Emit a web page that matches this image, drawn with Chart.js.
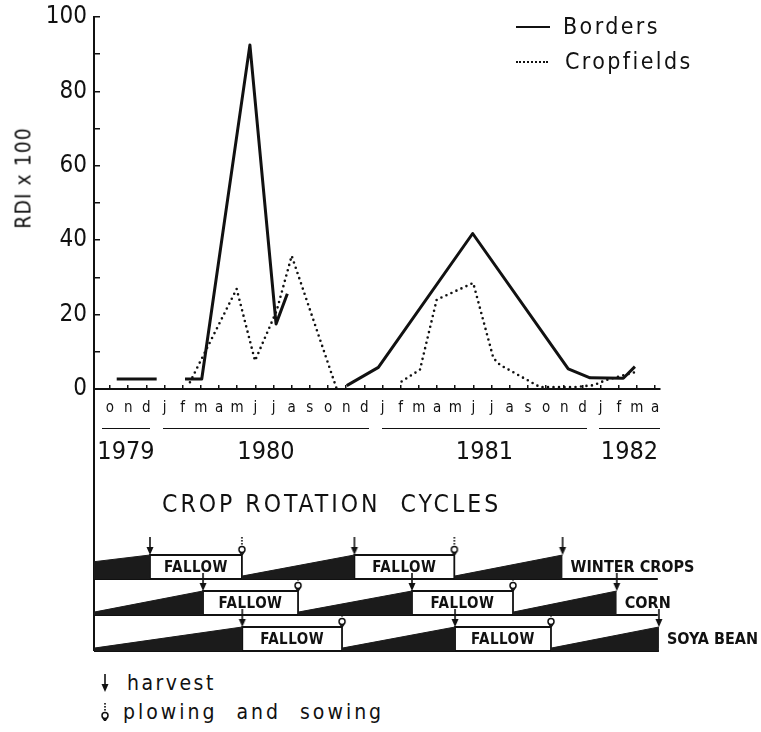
<!DOCTYPE html>
<html>
<head>
<meta charset="utf-8">
<script src="https://cdn.jsdelivr.net/npm/chart.js@4.4.1/dist/chart.umd.min.js"></script>
<style>
	body { margin: 0; background: #fff; }
	#wrap { position: relative; width: 761px; height: 732px; overflow: hidden; color: #111;
		font-family: 'DejaVu Sans Condensed', 'DejaVu Sans', sans-serif; }
	canvas { position: absolute; left: 0; }
	.t { position: absolute; white-space: pre; line-height: 1; }
	.c { transform: translate(-50%, -50%); }
	.l { transform: translate(0, -50%); }
</style>
</head>
<body>
<div id="wrap">
	<canvas id="rdi_chart" width="761" height="420" style="top:0"></canvas>
	<canvas id="crop_chart" width="761" height="271" style="top:389px"></canvas>
</div>
<script>
// months from october 1979 to april 1982
const months = ['o', 'n', 'd',
	'j', 'f', 'm', 'a', 'm', 'j', 'j', 'a', 's', 'o', 'n', 'd',
	'j', 'f', 'm', 'a', 'm', 'j', 'j', 'a', 's', 'o', 'n', 'd',
	'j', 'f', 'm', 'a']
const y_ticks = [0, 10, 20, 30, 40, 50, 60, 70, 80, 90, 100]

// month index (0 = oct 1979), null value = gap in the line
const borders_month = [0.37, 2.57, 3.3, 4.13, 5.05, 7.7, 9.14, 9.76, 11.5,
	13.03, 14.77, 19.96, 25.22, 26.42, 28.25, 28.89]
const borders_rdi = [2.7, 2.7, null, 2.7, 2.7, 92.5, 17.5, 25.6, null,
	0.9, 5.8, 41.8, 5.4, 3.0, 2.9, 6.0]

const cropfields_month = [4.4, 4.95, 6.97, 7.98, 9.17, 10.0, 12.48, 14.2,
	16.05, 17.06, 17.98, 19.99, 21.1, 21.46, 23.67, 25.5, 26.6, 27.3, 28.89]
const cropfields_rdi = [1.8, 7.2, 26.9, 7.6, 21, 35.8, 0, null,
	2.0, 5.2, 24, 28.5, 8.3, 6.5, 0.5, 0.5, 1.0, 2.4, 4.5]

const year_labels = ['1979', '1980', '1981', '1982']
const year_start = [-0.44, 2.92, 14.97, 26.91]
const year_end = [2.2, 14.25, 26.25, 30.27]

// crop rotation cycles, in the same month index
const crop_names = ['WINTER CROPS', 'CORN', 'SOYA BEAN']
const harvest_month = [[2.2, 13.45, 24.91], [5.12, 16.62, 27.89], [7.28, 18.99, 30.21]]
const sowing_month = [[7.26, 18.95], [10.35, 22.18], [12.77, 24.27]]
const first_crop_level = [0.72, 0.12, 0.12]

const x_min = -0.88
const x_max = 30.27
const ink = '#111'
const font_family = "'DejaVu Sans Condensed', 'DejaVu Sans', sans-serif"
const wrap = document.getElementById('wrap')

Chart.defaults.color = ink

function to_points(xs, ys) {
	return xs.map((x, i) => ({ x: x, y: ys[i] }))
}

function add_text(text, x, y, cls, style) {
	const d = document.createElement('div')
	d.className = 't ' + cls
	d.textContent = text
	d.style.left = x + 'px'
	d.style.top = y + 'px'
	Object.assign(d.style, style || {})
	wrap.appendChild(d)
	return d
}

// eslint-disable-next-line
const rdi_chart = new Chart(document.getElementById('rdi_chart'), {
	type: 'line',
	data: {
		datasets: [
			{
				label: 'Borders',
				data: to_points(borders_month, borders_rdi),
				borderColor: ink,
				borderWidth: 3,
				borderJoinStyle: 'round',
				pointRadius: 0,
			},
			{
				label: 'Cropfields',
				data: to_points(cropfields_month, cropfields_rdi),
				borderColor: ink,
				borderWidth: 2.6,
				borderDash: [0, 5.5],
				borderCapStyle: 'round',
				pointRadius: 0,
			},
		],
	},
	options: {
		responsive: false,
		animation: false,
		layout: { autoPadding: false, padding: { left: 0, right: 101, top: 17, bottom: 0 } },
		plugins: { legend: { display: false }, tooltip: { enabled: false } },
		scales: {
			x: {
				type: 'linear',
				min: x_min,
				max: x_max,
				afterBuildTicks: (s) => { s.ticks = months.map((m, i) => ({ value: i })) },
				afterFit: (s) => { s.height = 31 },
				ticks: {
					autoSkip: false,
					maxRotation: 0,
					padding: 14,
					font: { family: font_family, size: 15 },
					callback: (v) => months[v],
				},
				grid: { drawOnChartArea: false, tickLength: -4, color: ink, lineWidth: 1.5 },
				border: { color: ink, width: 2 },
			},
			y: {
				min: 0,
				max: 100,
				afterBuildTicks: (s) => { s.ticks = y_ticks.map((v) => ({ value: v })) },
				afterFit: (s) => {
					s.width = 94
					s.paddingTop = 0
					s.paddingBottom = 0
				},
				ticks: {
					padding: 13,
					font: { family: font_family, size: 24 },
					callback: (v) => (v % 20 === 0 ? v : ''),
				},
				grid: { drawOnChartArea: false, tickLength: -6, color: ink, lineWidth: 1.5 },
				border: { color: ink, width: 2 },
			},
		},
	},
})

// little marker pictures for harvest and plowing/sowing
function make_glyph(kind) {
	const c = document.createElement('canvas')
	c.width = 10
	c.height = 18
	const g = c.getContext('2d')
	g.strokeStyle = ink
	g.fillStyle = ink
	if (kind === 'harvest') {
		g.lineWidth = 1.6
		g.beginPath(); g.moveTo(5, 0); g.lineTo(5, 12); g.stroke()
		g.beginPath(); g.moveTo(1.5, 10); g.lineTo(8.5, 10); g.lineTo(5, 18); g.closePath(); g.fill()
	} else {
		for (let y = 0; y < 9; y += 3) g.fillRect(4.2, y, 1.6, 1.6)
		g.lineWidth = 1.5
		g.beginPath(); g.arc(5, 12.5, 3, 0, Math.PI * 2); g.stroke()
		g.beginPath(); g.moveTo(3, 15); g.lineTo(5, 18); g.lineTo(7, 15); g.stroke()
	}
	return c
}
const harvest_glyph = make_glyph('harvest')
const sowing_glyph = make_glyph('sowing')

const row_base = [3, 1.5, 0]
const row_top = row_base.map((b) => b + 1)
const px = 1 / 24 // one pixel in y units of the crop chart
const crop_datasets = []

crop_names.forEach((name, r) => {
	const b = row_base[r]
	const t = row_top[r]
	// growing crop: dark wedge from sowing to harvest
	harvest_month[r].forEach((h, k) => {
		const s = k === 0 ? x_min : sowing_month[r][k - 1]
		const lvl = k === 0 ? first_crop_level[r] : 0.12
		crop_datasets.push({
			data: [{ x: s, y: b + lvl }, { x: h, y: t }],
			borderColor: '#1b1b1b',
			backgroundColor: '#1b1b1b',
			borderWidth: 1,
			fill: { value: b },
		})
	})
	// fallow box from harvest to next sowing
	sowing_month[r].forEach((s, k) => {
		const h = harvest_month[r][k]
		crop_datasets.push({
			data: [{ x: h, y: b }, { x: h, y: t }, { x: s, y: t }, { x: s, y: b }],
			borderColor: ink,
			borderWidth: 1.8,
			fill: false,
		})
	})
	// row base line
	crop_datasets.push({
		data: [{ x: x_min, y: b }, { x: r === 2 ? harvest_month[r][2] : 30.15, y: b }],
		borderColor: ink,
		borderWidth: 2,
		fill: false,
	})
})

// left frame line, continuing the y axis down
crop_datasets.push({
	data: [{ x: x_min, y: 0 }, { x: x_min, y: 11 }],
	borderColor: ink,
	borderWidth: 2,
	fill: false,
})

crop_datasets.push({
	data: harvest_month.flatMap((hs, r) => hs.map((h) => ({ x: h, y: row_top[r] + 9 * px }))),
	showLine: false,
	pointStyle: harvest_glyph,
	pointRadius: 5,
})
crop_datasets.push({
	data: sowing_month.flatMap((ss, r) => ss.map((s) => ({ x: s, y: row_top[r] + 9 * px }))),
	showLine: false,
	pointStyle: sowing_glyph,
	pointRadius: 5,
})

crop_datasets.forEach((d) => {
	d.pointRadius = d.pointRadius || 0
	d.clip = false
})

const crop_chart = new Chart(document.getElementById('crop_chart'), {
	type: 'line',
	data: { datasets: crop_datasets },
	options: {
		responsive: false,
		animation: false,
		layout: { autoPadding: false, padding: { left: 94, right: 101, top: 0, bottom: 9 } },
		plugins: { legend: { display: false }, tooltip: { enabled: false } },
		scales: {
			x: { type: 'linear', display: false, min: x_min, max: x_max },
			y: { display: false, min: 0, max: 262 / 24 },
		},
	},
})

// texts
add_text('RDI x 100', 24, 178, 'c', { fontSize: '21px', transform: 'translate(-50%,-50%) rotate(-90deg)', letterSpacing: '1px' })

add_text('', 516, 27, 'l', { width: '34px', borderTop: '2.5px solid ' + ink })
add_text('', 516, 62, 'l', { width: '32px', borderTop: '2.5px dotted ' + ink })
add_text('Borders', 563, 26, 'l', { fontSize: '23px', letterSpacing: '2.4px' })
add_text('Cropfields', 565, 61, 'l', { fontSize: '23px', letterSpacing: '2.4px' })

const xs = rdi_chart.scales.x
year_labels.forEach((y, i) => {
	const a = xs.getPixelForValue(year_start[i])
	const e = xs.getPixelForValue(year_end[i])
	add_text('', a, 428, '', { width: (e - a) + 'px', borderTop: '1.5px solid ' + ink })
	add_text(y, (a + e) / 2, 450, 'c', { fontSize: '25px' })
})

add_text('CROP ROTATION  CYCLES', 162, 504, 'l', { fontSize: '24.5px', letterSpacing: '3px' })

const cx = crop_chart.scales.x
const cy = crop_chart.scales.y
crop_names.forEach((name, r) => {
	const mid_y = 389 + cy.getPixelForValue(row_base[r] + 0.5)
	sowing_month[r].forEach((s, k) => {
		const mid_x = cx.getPixelForValue((harvest_month[r][k] + s) / 2)
		add_text('FALLOW', mid_x, mid_y, 'c', { fontSize: '15px', fontWeight: 'bold', letterSpacing: '0.5px' })
	})
	const last = harvest_month[r][harvest_month[r].length - 1]
	add_text(name, cx.getPixelForValue(last) + 8, mid_y, 'l', { fontSize: '16px', fontWeight: 'bold' })
})

const harvest_img = document.createElement('img')
harvest_img.src = harvest_glyph.toDataURL()
Object.assign(harvest_img.style, { position: 'absolute', left: '100px', top: '674px' })
wrap.appendChild(harvest_img)
const sowing_img = document.createElement('img')
sowing_img.src = sowing_glyph.toDataURL()
Object.assign(sowing_img.style, { position: 'absolute', left: '100px', top: '703px' })
wrap.appendChild(sowing_img)
add_text('harvest', 127, 683, 'l', { fontSize: '21px', letterSpacing: '2.5px' })
add_text('plowing and sowing', 123, 712, 'l', { fontSize: '21px', letterSpacing: '3px', wordSpacing: '10px' })
</script>
</body>
</html>
